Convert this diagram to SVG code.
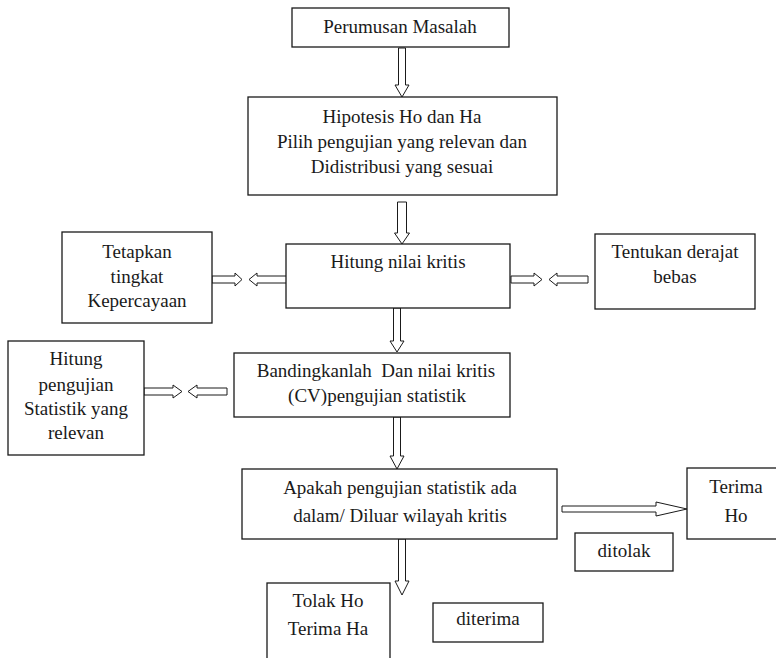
<svg xmlns="http://www.w3.org/2000/svg" width="776" height="658" viewBox="0 0 776 658">
<style>
.box{fill:#fff;stroke:#1a1a1a;stroke-width:1.3}
.arr{fill:#fff;stroke:#1a1a1a;stroke-width:1}
text{font-family:"Liberation Serif","DejaVu Serif","Noto Serif",serif;font-size:19px;fill:#1a1a1a;text-anchor:middle}
</style>
<rect width="776" height="658" fill="#fff"/>
<g id="connectors">
<path class="arr" d="M398.5,48 V85 H395 L402,97 L409,85 H405.5 V48 Z"/>
<path class="arr" d="M397.5,202 V233 H394.5 L402,244 L409.5,233 H406.5 V202 Z"/>
<path class="arr" d="M393.5,308 V341 H390 L397,352 L404,341 H400.5 V308 Z"/>
<path class="arr" d="M393.5,417 V456 H390 L397,469 L404,456 H400.5 V417 Z"/>
<path class="arr" d="M398.5,539 V581 H395 L402,595 L409,581 H405.5 V539 Z"/>
<path class="arr" d="M212,276 H235 V273 L242,279.5 L235,286 V283 H212 Z"/>
<path class="arr" d="M287,276 H257 V273 L249,279.5 L257,286 V283 H287 Z"/>
<path class="arr" d="M511,276 H534 V273 L542,279.5 L534,286 V283 H511 Z"/>
<path class="arr" d="M588,276 H557 V273 L549,279.5 L557,286 V283 H588 Z"/>
<path class="arr" d="M144,388 H173 V385 L182,391.5 L173,398 V395 H144 Z"/>
<path class="arr" d="M227,388 H197 V385 L188,391.5 L197,398 V395 H227 Z"/>
<path class="arr" d="M562,506 H656 V502 L687,509 L656,516 V512 H562 Z"/>
</g>
<g id="perumusan"><rect class="box" x="292" y="8" width="217" height="39"/><text x="400" y="33">Perumusan Masalah</text></g>
<g id="hipotesis"><rect class="box" x="248" y="97" width="309" height="98"/><text x="402" y="123">Hipotesis Ho dan Ha</text><text x="402" y="148">Pilih pengujian yang relevan dan</text><text x="402" y="173">Didistribusi yang sesuai</text></g>
<g id="hitung-nilai"><rect class="box" x="286" y="244" width="224" height="64"/><text x="398" y="268">Hitung nilai kritis</text></g>
<g id="tetapkan"><rect class="box" x="62" y="232" width="150" height="91"/><text x="137" y="258">Tetapkan</text><text x="137" y="283">tingkat</text><text x="137" y="307">Kepercayaan</text></g>
<g id="tentukan"><rect class="box" x="595" y="234" width="160" height="75"/><text x="675" y="258">Tentukan derajat</text><text x="675" y="283">bebas</text></g>
<g id="bandingkan"><rect class="box" x="234" y="353" width="276" height="64"/><text x="376" y="377" xml:space="preserve">Bandingkanlah  Dan nilai kritis</text><text x="377" y="402">(CV)pengujian statistik</text></g>
<g id="hitung-pengujian"><rect class="box" x="8" y="341" width="136" height="114"/><text x="76" y="365">Hitung</text><text x="76" y="391">pengujian</text><text x="76" y="415">Statistik yang</text><text x="76" y="439">relevan</text></g>
<g id="apakah"><rect class="box" x="242" y="469" width="315" height="70"/><text x="400" y="494">Apakah pengujian statistik ada</text><text x="400" y="522">dalam/ Diluar wilayah kritis</text></g>
<g id="terima-ho"><rect class="box" x="687" y="468" width="103" height="71"/><text x="736" y="493">Terima</text><text x="736" y="522">Ho</text></g>
<g id="ditolak"><rect class="box" x="575" y="533" width="98" height="38"/><text x="624" y="557">ditolak</text></g>
<g id="tolak-ho"><rect class="box" x="267" y="583" width="123" height="90"/><text x="328" y="607">Tolak Ho</text><text x="328" y="635">Terima Ha</text></g>
<g id="diterima"><rect class="box" x="433" y="603" width="110" height="39"/><text x="488" y="625">diterima</text></g>
</svg>
